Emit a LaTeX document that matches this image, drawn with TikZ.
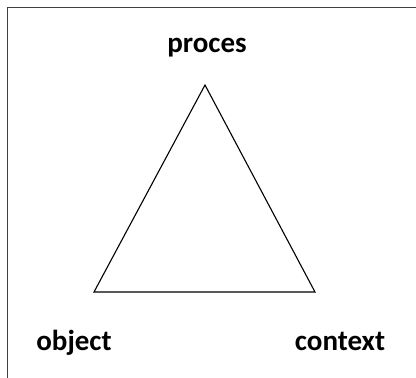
\documentclass[tikz,border=0pt]{standalone}
\usepackage{fontspec}
\setmainfont{Carlito}
\begin{document}
\begin{tikzpicture}[x=1pt,y=1pt,
  lbl/.style={inner sep=0pt,anchor=base,font=\fontsize{29}{32}\selectfont\bfseries},
  edge/.style={draw=black,line width=1.1pt,line join=miter}]
\useasboundingbox (0,0) rectangle (416,378);
\fill[white] (0,0) rectangle (416,378);
\draw[color=black!75,line width=1pt] (7,0) -- (7,370) -- (416,370);
\coordinate (top) at (205,293);
\coordinate (bl) at (94,86);
\coordinate (br) at (315,86);
\draw[edge] (top) -- (bl) -- (br) -- cycle;
\node[lbl] (proces) at (207,325) {proces};
\node[lbl] (object) at (74,27) {object};
\node[lbl] (context) at (340,27) {context};
\end{tikzpicture}
\end{document}
